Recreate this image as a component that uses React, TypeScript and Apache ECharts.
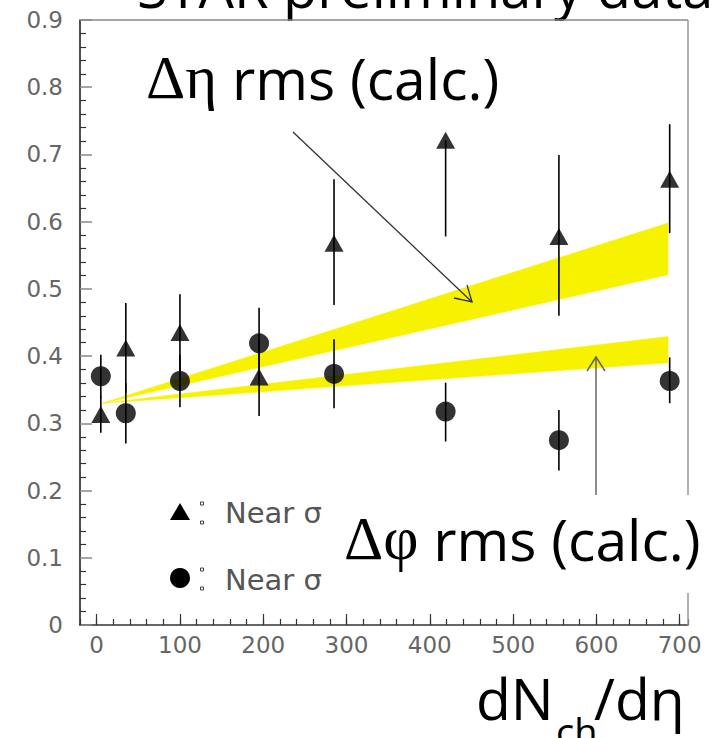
import React, { useEffect, useRef } from "react";
import * as echarts from "echarts";

// ---- data ----
const xVals = [5, 35, 100, 195, 285, 419, 555, 688];
const etaY = [0.313, 0.412, 0.435, 0.369, 0.568, 0.721, 0.578, 0.663];
const etaLow = [0.286, 0.345, 0.378, 0.311, 0.476, 0.578, 0.46, 0.583];
const etaHigh = [0.34, 0.479, 0.492, 0.427, 0.663, 0.721, 0.699, 0.745];
const phiY = [0.37, 0.315, 0.363, 0.419, 0.3735, 0.3175, 0.275, 0.363];
const phiLow = [0.338, 0.27, 0.324, 0.366, 0.3225, 0.273, 0.23, 0.33];
const phiHigh = [0.402, 0.36, 0.402, 0.472, 0.425, 0.3605, 0.32, 0.398];

const bandX = [7, 686];
const etaBandLow = [0.33, 0.521];
const etaBandHigh = [0.33, 0.598];
const phiBandLow = [0.33, 0.39];
const phiBandHigh = [0.33, 0.429];

const xMajorTicks = [0, 100, 200, 300, 400, 500, 600, 700];

const YELLOW = "#f6f200";

function bandSeries(name: string, low: number[], high: number[]) {
  return {
    type: "custom",
    name,
    z: 1,
    data: [[0]],
    renderItem: (params: any, api: any) => {
      const top = bandX.map((x, i) => api.coord([x, high[i]]));
      const bot = bandX.map((x, i) => api.coord([x, low[i]])).reverse();
      return {
        type: "polygon",
        shape: { points: top.concat(bot) },
        style: { fill: YELLOW, stroke: YELLOW, lineWidth: 0.5 },
      };
    },
  };
}

function errSeries(name: string, lo: number[], hi: number[]) {
  return {
    type: "custom",
    name,
    z: 3,
    data: xVals.map((x, i) => [x, lo[i], hi[i]]),
    renderItem: (params: any, api: any) => {
      const p1 = api.coord([api.value(0), api.value(1)]);
      const p2 = api.coord([api.value(0), api.value(2)]);
      return {
        type: "line",
        shape: { x1: p1[0], y1: p1[1], x2: p2[0], y2: p2[1] },
        style: { stroke: "#000", lineWidth: 1.6 },
      };
    },
  };
}

export default function App() {
  const ref = useRef<HTMLDivElement>(null);
  useEffect(() => {
    const chart = echarts.init(ref.current!, null, { renderer: "svg" });
    const big = "Open Sans";
    const tickFont = "DejaVu Sans";
    const option: any = {
      animation: false,
      backgroundColor: "#fff",
      grid: { left: 80, right: 28, top: 20, bottom: 113, show: false },
      xAxis: [
        {
          type: "value",
          min: -20,
          max: 710,
          interval: 20,
          axisLine: { show: true, onZero: false, lineStyle: { color: "#333", width: 1.5 } },
          axisTick: { show: true, inside: true, length: 6, lineStyle: { color: "#333", width: 1.2 } },
          axisLabel: {
            show: true,
            margin: 8,
            fontFamily: tickFont,
            fontSize: 23,
            color: "#666",
            formatter: (v: number) => (v >= 0 && v % 100 === 0 ? String(v) : ""),
          },
          splitLine: { show: false },
        },
        {
          type: "value",
          min: -20,
          max: 710,
          position: "bottom",
          axisLine: { show: false, onZero: false },
          axisTick: {
            show: true,
            inside: true,
            length: 11,
            customValues: xMajorTicks,
            lineStyle: { color: "#333", width: 1.2 },
          },
          axisLabel: { show: false },
          splitLine: { show: false },
        },
      ],
      yAxis: {
        type: "value",
        min: 0,
        max: 0.9,
        interval: 0.1,
        axisLine: { show: true, onZero: false, lineStyle: { color: "#222", width: 1.6 } },
        axisTick: { show: true, inside: true, length: 12, lineStyle: { color: "#888", width: 1.5 } },
        minorTick: { show: true, splitNumber: 5, length: 6, lineStyle: { color: "#333", width: 1.2 } },
        axisLabel: {
          margin: 17,
          fontFamily: tickFont,
          fontSize: 23,
          color: "#666",
          formatter: (v: number) => (v === 0 ? "0" : v.toFixed(1)),
        },
        splitLine: { show: false },
      },
      series: [
        bandSeries("Δη band", etaBandLow, etaBandHigh),
        bandSeries("Δφ band", phiBandLow, phiBandHigh),
        errSeries("Δη err", etaLow, etaHigh),
        errSeries("Δφ err", phiLow, phiHigh),
        {
          type: "scatter",
          name: "Near σΔη",
          z: 4,
          symbol: "triangle",
          symbolSize: [19, 17],
          itemStyle: { color: "#000" },
          data: xVals.map((x, i) => [x, etaY[i]]),
        },
        {
          type: "scatter",
          name: "Near σΔφ",
          z: 4,
          symbol: "circle",
          symbolSize: 20,
          itemStyle: { color: "#000" },
          data: xVals.map((x, i) => [x, phiY[i]]),
        },
      ],
      graphic: {
        elements: [
          // partially hidden title
          {
            type: "text",
            x: 137,
            y: 14,
            z: 1,
            style: {
              text: "STAR preliminary data",
              font: `56px '${big}'`,
              fill: "#000",
              verticalAlign: "bottom",
            },
          },
          { type: "rect", z: 2, shape: { x: 82, y: 21, width: 640, height: 10 }, style: { fill: "#fff" } },
          // frame top / right
          { type: "line", z: 5, shape: { x1: 80, y1: 20, x2: 688, y2: 20 }, style: { stroke: "#888", lineWidth: 1.5 } },
          { type: "line", z: 5, shape: { x1: 688, y1: 20, x2: 688, y2: 625 }, style: { stroke: "#999", lineWidth: 1.5 } },
          // legend
          { type: "polygon", z: 6, shape: { points: [[170, 520], [190, 520], [180, 503]] }, style: { fill: "#000" } },
          { type: "circle", z: 6, shape: { cx: 180, cy: 578, r: 10 }, style: { fill: "#000" } },
          { type: "rect", z: 6, shape: { x: 200.5, y: 502, width: 3, height: 3 }, style: { fill: "#fff", stroke: "#444", lineWidth: 1 } },
          { type: "rect", z: 6, shape: { x: 200.5, y: 521, width: 3, height: 3 }, style: { fill: "#fff", stroke: "#444", lineWidth: 1 } },
          { type: "rect", z: 6, shape: { x: 200.5, y: 568, width: 3, height: 3 }, style: { fill: "#fff", stroke: "#444", lineWidth: 1 } },
          { type: "rect", z: 6, shape: { x: 200.5, y: 587, width: 3, height: 3 }, style: { fill: "#fff", stroke: "#444", lineWidth: 1 } },
          {
            type: "text",
            x: 225,
            y: 513,
            z: 6,
            style: { text: "Near σ", font: "29px 'DejaVu Sans'", fill: "#555", verticalAlign: "middle" },
          },
          {
            type: "text",
            x: 225,
            y: 580,
            z: 6,
            style: { text: "Near σ", font: "29px 'DejaVu Sans'", fill: "#555", verticalAlign: "middle" },
          },
          // Δη arrow
          { type: "line", z: 8, shape: { x1: 293, y1: 132, x2: 472, y2: 302 }, style: { stroke: "#333", lineWidth: 1.3 } },
          { type: "polyline", z: 8, shape: { points: [[454, 298], [472, 302], [467, 285]] }, style: { stroke: "#333", lineWidth: 1.3, fill: null } },
          // Δφ arrow
          { type: "line", z: 8, shape: { x1: 596, y1: 357, x2: 596, y2: 500 }, style: { stroke: "#666", lineWidth: 1.5 } },
          { type: "polyline", z: 8, shape: { points: [[587, 371], [596, 357], [605, 371]] }, style: { stroke: "#666", lineWidth: 1.5, fill: null } },
          // white box behind Δφ label
          { type: "rect", z: 9, shape: { x: 327, y: 495, width: 389, height: 98 }, style: { fill: "#fff" } },
          // labels
          {
            type: "text",
            x: 146,
            y: 108,
            z: 10,
            style: {
              text: "{d|Δη}{t| rms (calc.)}",
              verticalAlign: "bottom",
              rich: {
                d: { fontFamily: "Liberation Serif", fontSize: 61, fill: "#000" },
                t: { fontFamily: big, fontSize: 57, fill: "#000" },
              },
            },
          },
          {
            type: "text",
            x: 344,
            y: 569,
            z: 10,
            style: {
              text: "{d|Δφ}{t| rms (calc.)}",
              verticalAlign: "bottom",
              rich: {
                d: { fontFamily: "Liberation Serif", fontSize: 61, fill: "#000" },
                t: { fontFamily: big, fontSize: 57, fill: "#000" },
              },
            },
          },
          // x-axis title dN_ch/dη
          {
            type: "text",
            x: 476,
            y: 726,
            z: 10,
            style: { text: "dN", font: `57px '${big}'`, fill: "#000", verticalAlign: "bottom" },
          },
          {
            type: "text",
            x: 556,
            y: 750,
            z: 10,
            style: { text: "ch", font: `38px '${big}'`, fill: "#000", verticalAlign: "bottom" },
          },
          {
            type: "text",
            x: 594,
            y: 726,
            z: 10,
            style: { text: "/dη", font: `57px '${big}'`, fill: "#000", verticalAlign: "bottom" },
          },
        ],
      },
    };
    chart.setOption(option);
    return () => chart.dispose();
  }, []);
  return (
    <div
      ref={ref}
      style={{ position: "fixed", left: 0, top: 0, width: 716, height: 738, background: "#fff" }}
    />
  );
}
